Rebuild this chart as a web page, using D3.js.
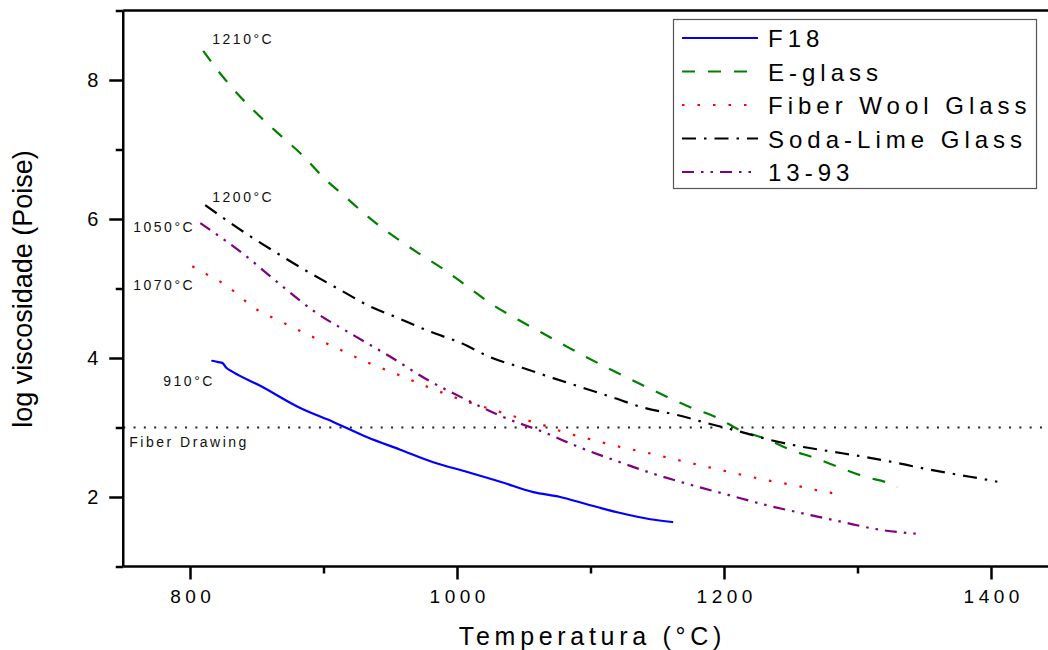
<!DOCTYPE html>
<html><head><meta charset="utf-8">
<script src="https://cdn.jsdelivr.net/npm/d3@7/dist/d3.min.js"></script>
<style>body{margin:0;background:#fff}svg{display:block}</style>
</head><body><svg id="c" width="1048" height="650"></svg>
<script>
// ---- data ----
const seriesNames = ["F18", "E-glass", "Fiber Wool Glass", "Soda-Lime Glass", "13-93"];
const tempF18 = [816.7, 821.2, 824.2, 827.2, 832.0, 852.6, 882.6, 907.3, 932.8, 957.5, 982.2, 1007.7, 1032.4, 1057.1, 1077.3, 1094.6, 1120.0, 1144.8, 1161.2];
const viscF18 = [3.96, 3.94, 3.93, 3.86, 3.80, 3.60, 3.28, 3.08, 2.86, 2.68, 2.50, 2.36, 2.22, 2.07, 2.00, 1.91, 1.78, 1.68, 1.64];
const tempEglass = [809.9, 824.9, 837.6, 852.6, 869.1, 884.1, 899.8, 916.3, 933.5, 971.0, 989.7, 1008.4, 1027.2, 1045.9, 1063.9, 1082.6, 1138.8, 1157.5, 1176.2, 1194.9, 1212.2, 1232.4, 1249.6, 1268.4, 1287.1, 1305.8, 1324.5, 1329.8];
const viscEglass = [8.42, 8.04, 7.76, 7.47, 7.18, 6.92, 6.60, 6.32, 6.03, 5.51, 5.28, 5.02, 4.76, 4.55, 4.36, 4.16, 3.61, 3.44, 3.28, 3.14, 2.96, 2.83, 2.68, 2.56, 2.42, 2.29, 2.19, 2.14];
const tempWool = [801.7, 812.9, 824.2, 835.4, 845.1, 867.6, 890.1, 912.5, 933.5, 956.0, 978.5, 1000.2, 1022.7, 1044.4, 1066.9, 1077.3, 1099.8, 1122.3, 1144.0, 1165.7, 1188.2, 1210.7, 1232.4, 1254.9, 1276.6, 1287.8];
const viscWool = [5.32, 5.20, 5.08, 4.92, 4.76, 4.53, 4.32, 4.12, 3.93, 3.76, 3.58, 3.42, 3.28, 3.15, 3.02, 2.95, 2.83, 2.72, 2.63, 2.53, 2.43, 2.33, 2.24, 2.16, 2.07, 2.04];
const tempSoda = [811.4, 843.6, 867.6, 890.1, 912.5, 933.0, 955.2, 978.5, 1002.4, 1026.4, 1048.9, 1072.1, 1094.6, 1118.5, 1138.8, 1165.0, 1189.7, 1212.2, 1234.6, 1259.4, 1281.8, 1304.3, 1329.8, 1352.2, 1375.5, 1399.4, 1404.7];
const viscSoda = [6.20, 5.77, 5.48, 5.22, 4.98, 4.76, 4.58, 4.39, 4.22, 4.00, 3.86, 3.71, 3.57, 3.42, 3.29, 3.18, 3.05, 2.94, 2.82, 2.72, 2.65, 2.58, 2.49, 2.40, 2.32, 2.24, 2.22];
const temp1393 = [807.7, 839.1, 866.1, 894.6, 922.3, 950.7, 978.5, 1006.9, 1034.6, 1063.9, 1092.3, 1119.3, 1147.8, 1176.2, 1203.2, 1232.4, 1260.1, 1288.6, 1316.3, 1344.8];
const visc1393 = [5.94, 5.51, 5.08, 4.65, 4.33, 4.01, 3.68, 3.40, 3.15, 2.94, 2.71, 2.52, 2.33, 2.17, 2.03, 1.88, 1.76, 1.64, 1.53, 1.47];
const xTicks = [800, 1000, 1200, 1400];
const xMinorTicks = [900, 1100, 1300];
const yTicks = [2, 4, 6, 8];
const yMinorTicks = [1, 3, 5, 7, 9];
const fiberDrawingLevel = 3;
const annotationTexts = ["1210°C", "1200°C", "1050°C", "1070°C", "910°C", "Fiber Drawing"];
const annotationTemps = [816.7, 816.7, 757.5, 757.5, 780, 754.5];
const annotationVisc = [8.52, 6.24, 5.81, 4.98, 3.60, 2.72];
const xTitle = "Temperatura (°C)";
const yTitle = "log viscosidade (Poise)";

// ---- styles ----
const colors = ["#0000ff", "#008000", "#ff0000", "#000000", "#800080"];
const dashes = [null, "13,13", "2.5,13", "14,8,2.5,8", "12,7,2.5,7,2.5,7"];
const caps = ["round", "butt", "butt", "butt", "butt"];

const svg = d3.select("#c");
const x = d3.scaleLinear().domain([750, 1450]).range([123.25, 1057.75]);
const y = d3.scaleLinear().domain([1, 9]).range([566.5, 10.5]);

const series = [
  [tempF18, viscF18], [tempEglass, viscEglass], [tempWool, viscWool], [tempSoda, viscSoda], [temp1393, visc1393]
];

// fiber drawing reference line
svg.append("line").attr("x1", x(750)).attr("x2", 1048)
  .attr("y1", y(fiberDrawingLevel)).attr("y2", y(fiberDrawingLevel))
  .attr("stroke", "#222").attr("stroke-width", 2).attr("stroke-dasharray", "2,8.3");

// curves
const line = d3.line().x(d => x(d[0])).y(d => y(d[1])).curve(d3.curveMonotoneX);
series.forEach((s, i) => {
  const pts = s[0].map((t, k) => [t, s[1][k]]);
  svg.append("path").attr("d", line(pts)).attr("fill", "none")
    .attr("stroke", colors[i]).attr("stroke-width", 2.2)
    .attr("stroke-linecap", caps[i])
    .attr("stroke-dasharray", dashes[i]);
});

// frame: top line
svg.append("line").attr("x1", x(750)).attr("x2", 1048).attr("y1", y(9)).attr("y2", y(9))
  .attr("stroke", "#000").attr("stroke-width", 2.5);

// axes
const xAxis = d3.axisBottom(x).tickValues(xTicks).tickSize(13).tickPadding(10).tickFormat(d3.format("d"));
const gx = svg.append("g").attr("transform", `translate(0,${y(1)})`).call(xAxis);
gx.select(".domain").attr("d", `M${x(750)},0H1048`).attr("stroke-width", 2.5);
gx.selectAll(".tick line").attr("stroke-width", 2.5);
gx.selectAll(".tick text").attr("font-family", "Arial, 'Liberation Sans', sans-serif")
  .attr("font-size", 19).attr("fill", "#000").style("letter-spacing", "4.5px").attr("dx", 2.25);
const gxm = svg.append("g").attr("transform", `translate(0,${y(1)})`)
  .call(d3.axisBottom(x).tickValues(xMinorTicks).tickSize(7).tickFormat(""));
gxm.select(".domain").remove();
gxm.selectAll(".tick line").attr("stroke-width", 2.5);

const yAxis = d3.axisLeft(y).tickValues(yTicks).tickSize(14).tickPadding(11).tickFormat(d3.format("d"));
const gy = svg.append("g").attr("transform", `translate(${x(750)},0)`).call(yAxis);
gy.select(".domain").attr("d", `M0,${y(9)}V${y(1)}`).attr("stroke-width", 2.5);
gy.selectAll(".tick line").attr("stroke-width", 2.5);
gy.selectAll(".tick text").attr("font-family", "Arial, 'Liberation Sans', sans-serif")
  .attr("font-size", 20).attr("fill", "#000");
const gym = svg.append("g").attr("transform", `translate(${x(750)},0)`)
  .call(d3.axisLeft(y).tickValues(yMinorTicks).tickSize(7.5).tickFormat(""));
gym.select(".domain").remove();
gym.selectAll(".tick line").attr("stroke-width", 2.5);

// axis titles
svg.append("text").attr("x", 590 + 2.4).attr("y", 645).attr("text-anchor", "middle")
  .attr("font-family", "Arial, 'Liberation Sans', sans-serif").attr("font-size", 25)
  .style("letter-spacing", "4.7px").text(xTitle);
svg.append("text").attr("transform", "translate(32,289) rotate(-90)").attr("text-anchor", "middle")
  .attr("font-family", "Arial, 'Liberation Sans', sans-serif").attr("font-size", 27)
  .text(yTitle);

// annotations
annotationTexts.forEach((t, i) => {
  svg.append("text").attr("x", x(annotationTemps[i])).attr("y", y(annotationVisc[i]))
    .attr("font-family", "Arial, 'Liberation Sans', sans-serif").attr("font-size", 14)
    .attr("fill", "#111").style("letter-spacing", "2.5px").text(t);
});

// legend
const lg = svg.append("g");
lg.append("rect").attr("x", 673.5).attr("y", 19.5).attr("width", 363).attr("height", 169)
  .attr("fill", "#fff").attr("stroke", "#555").attr("stroke-width", 1.2);
seriesNames.forEach((n, i) => {
  const cy = 38 + i * 33.5;
  lg.append("line").attr("x1", 682).attr("x2", 758).attr("y1", cy).attr("y2", cy)
    .attr("stroke", colors[i]).attr("stroke-width", 2.2)
    .attr("stroke-dasharray", dashes[i]);
  lg.append("text").attr("x", 768).attr("y", cy + 9)
    .attr("font-family", "Arial, 'Liberation Sans', sans-serif").attr("font-size", 24)
    .style("letter-spacing", "5px").text(n);
});
</script></body></html>
